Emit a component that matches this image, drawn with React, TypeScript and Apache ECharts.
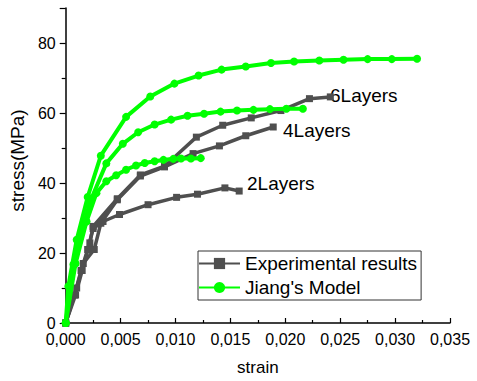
import React, { useEffect, useRef } from "react";
import * as echarts from "echarts";

const FONT = "'Liberation Sans', Arial, sans-serif";

// Experimental results
const exp2Strain = [0, 0.0008, 0.0014, 0.002, 0.0025, 0.0034, 0.0049, 0.0075, 0.0101, 0.012, 0.0145, 0.0158];
const exp2Stress = [0, 8, 15, 21, 27, 29, 31, 33.8, 35.9, 36.8, 38.6, 37.7];
const exp4Strain = [0, 0.001, 0.0016, 0.0026, 0.0032, 0.0047, 0.0068, 0.009, 0.0116, 0.014, 0.0164, 0.0189];
const exp4Stress = [0, 10, 17, 21, 28.5, 35.2, 42, 44.6, 48.4, 50.6, 53.5, 56];
const exp6Strain = [0, 0.0009, 0.0015, 0.0022, 0.0025, 0.0047, 0.0068, 0.009, 0.0119, 0.0143, 0.0169, 0.0196, 0.0222, 0.0241];
const exp6Stress = [0, 8, 15, 22.9, 27.6, 35.5, 42.3, 44.8, 53.1, 56.5, 58.6, 60.7, 64.1, 64.6];

// Jiang's Model
const jiang2Strain = [0, 0.0009, 0.0019, 0.0028, 0.0037, 0.0046, 0.0055, 0.0064, 0.0072, 0.0081, 0.0089, 0.0098, 0.0105, 0.0114, 0.0123];
const jiang2Stress = [0, 17, 29, 37.1, 40.5, 42.2, 43.8, 45.0, 45.7, 46.2, 46.6, 46.9, 47.0, 47.0, 47.1];
const jiang4Strain = [0, 0.0007, 0.0022, 0.0037, 0.0052, 0.0066, 0.0081, 0.0096, 0.0111, 0.0126, 0.0141, 0.0156, 0.0171, 0.0186, 0.0201, 0.0216];
const jiang4Stress = [0, 16.7, 34.5, 45.6, 51.2, 54.5, 56.7, 58.1, 59.2, 59.8, 60.4, 60.7, 60.9, 61.1, 61.2, 61.2];
const jiang6Strain = [0, 0.00024, 0.001, 0.002, 0.0032, 0.0055, 0.0077, 0.0099, 0.0121, 0.0142, 0.0164, 0.0187, 0.0208, 0.0231, 0.0253, 0.0275, 0.0297, 0.032];
const jiang6Stress = [0, 10.5, 23.8, 36, 47.8, 58.9, 64.7, 68.4, 70.7, 72.4, 73.3, 74.3, 74.7, 75.0, 75.2, 75.4, 75.4, 75.5];

const legendNames = ["Experimental results", "Jiang's Model"];
const layerLabels = ["6Layers", "4Layers", "2Layers"];

const GREY = "#4f4f4f";
const GREEN = "#00ff00";

const pairs = (xs: number[], ys: number[]) => xs.map((x, i) => [x, ys[i]]);

export default function App() {
  const ref = useRef<HTMLDivElement>(null);
  useEffect(() => {
    if (!ref.current) return;
    const chart = echarts.init(ref.current, null, { renderer: "svg" });
    const greySeries = (data: number[][]) => ({
      type: "line",
      name: legendNames[0],
      data,
      symbol: "rect",
      symbolSize: 7,
      showAllSymbol: true,
      color: GREY,
      lineStyle: { color: GREY, width: 3.5 },
      itemStyle: { color: GREY },
      z: 2,
    });
    const greenSeries = (data: number[][]) => ({
      type: "line",
      name: legendNames[1],
      data,
      symbol: "circle",
      symbolSize: 8,
      showAllSymbol: true,
      color: GREEN,
      lineStyle: { color: GREEN, width: 4 },
      itemStyle: { color: GREEN },
      z: 3,
    });
    chart.setOption({
      animation: false,
      grid: { left: 59, right: 27, top: 8, bottom: 58, containLabel: false },
      xAxis: {
        type: "value",
        min: 0,
        max: 0.035,
        interval: 0.005,
        name: "strain",
        nameLocation: "middle",
        nameGap: 36,
        nameTextStyle: { fontSize: 17, color: "#000", fontFamily: FONT },
        axisLine: { show: true, onZero: false, lineStyle: { color: "#000", width: 1.5 } },
        axisTick: { show: true, inside: true, length: 5, lineStyle: { color: "#000", width: 1.2 } },
        minorTick: { show: true, splitNumber: 2, length: 3, lineStyle: { color: "#000", width: 1.2 } },
        splitLine: { show: false },
        axisLabel: {
          fontSize: 16,
          color: "#000",
          fontFamily: FONT,
          margin: 8,
          formatter: (v: number) => v.toFixed(3).replace(".", ","),
        },
      },
      yAxis: {
        type: "value",
        min: 0,
        max: 90,
        interval: 20,
        name: "stress(MPa)",
        nameLocation: "middle",
        nameGap: 32,
        nameTextStyle: { fontSize: 19, color: "#000", fontFamily: FONT, padding: [0, 0, 0, 10] },
        axisLine: { show: true, onZero: false, lineStyle: { color: "#000", width: 1.5 } },
        axisTick: { show: true, inside: false, length: 6, lineStyle: { color: "#000", width: 1.2 } },
        minorTick: { show: true, splitNumber: 2, length: 4, lineStyle: { color: "#000", width: 1.2 } },
        splitLine: { show: false },
        axisLabel: { fontSize: 16, color: "#000", fontFamily: FONT, margin: 10, showMaxLabel: false },
      },
      legend: {
        data: legendNames,
        orient: "vertical",
        left: 198,
        top: 251,
        padding: [3, 4, 3, 0],
        itemGap: 5,
        itemWidth: 41,
        itemHeight: 14,
        borderColor: "#333",
        borderWidth: 1,
        borderRadius: 0,
        textStyle: { fontSize: 19, lineHeight: 19, color: "#000", fontFamily: FONT },
      },
      graphic: [
        { type: "text", left: 330, top: 86, style: { text: layerLabels[0], fontSize: 19, fill: "#000", font: `19px ${FONT}` } },
        { type: "text", left: 283, top: 121, style: { text: layerLabels[1], fontSize: 19, fill: "#000", font: `19px ${FONT}` } },
        { type: "text", left: 247, top: 174, style: { text: layerLabels[2], fontSize: 19, fill: "#000", font: `19px ${FONT}` } },
      ],
      series: [
        greySeries(pairs(exp2Strain, exp2Stress)),
        greySeries(pairs(exp4Strain, exp4Stress)),
        greySeries(pairs(exp6Strain, exp6Stress)),
        greenSeries(pairs(jiang2Strain, jiang2Stress)),
        greenSeries(pairs(jiang4Strain, jiang4Stress)),
        greenSeries(pairs(jiang6Strain, jiang6Stress)),
      ],
    });
    return () => chart.dispose();
  }, []);
  return <div ref={ref} style={{ width: 477, height: 381, position: "absolute", left: 0, top: 0 }} />;
}
